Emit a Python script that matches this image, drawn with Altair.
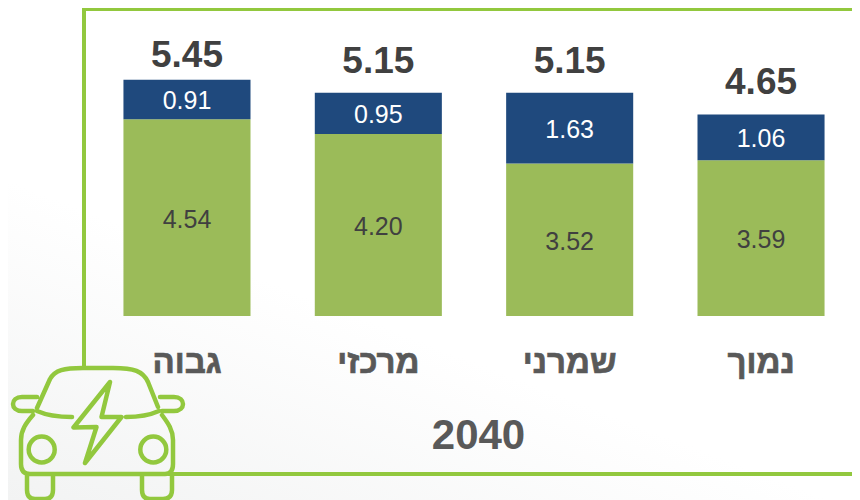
import altair as alt
import pandas as pd

categories = ["גבוה", "מרכזי", "שמרני", "נמוך"]
green_values = [4.54, 4.20, 3.52, 3.59]
blue_values = [0.91, 0.95, 1.63, 1.06]
totals = ["5.45", "5.15", "5.15", "4.65"]
axis_title = "2040"

GREEN = "#9BBB59"
BLUE = "#1F497D"
FRAME = "#92C83E"
TEXT = "#404040"
GREY = "#595959"
FONT = "Liberation Sans"

W, H = 844, 492
BASE = 308
PX_PER_UNIT = 43.35
Y_MAX = 7

# Car icon outline, in picture pixels (drawn as one custom point shape)
CAR = (
    "M37 408 L50 379 C55 370 64 368 83 368 L113 368 C134 368 143 371 148 382 L158 407 "
    "M37 411 C46 415 58 417 72 417 M126 417 C140 417 150 415 159 411 "
    "M37 397 L22 397 C10 397 10 411 22 411 L33 411 "
    "M160 397 L174 397 C186 397 186 411 174 411 L162 411 "
    "M33 415 C26 423 21 430 21 440 L21 464 C21 471 24 474 30 474 L165 474 "
    "C170 474 173 471 173 464 L173 440 C173 430 168 423 162 415 "
    "M28.7 449.5 A13 13 0 1 1 54.7 449.5 A13 13 0 1 1 28.7 449.5 "
    "M140.3 449.5 A13 13 0 1 1 166.3 449.5 A13 13 0 1 1 140.3 449.5 "
    "M27 474 L27 490 C27 496 30 499 35 499 L45 499 C50 499 53 496 53 490 L53 474 "
    "M142 474 L142 490 C142 496 145 499 150 499 L163 499 C169 499 172 496 172 490 L172 474 "
    "M110 382 L73.5 427.5 L96.5 427 L85 463 L121.5 417 L101.5 417 Z"
)

bars = pd.DataFrame({
    "category": categories * 2,
    "start": [0.0] * 4 + green_values,
    "end": green_values + [g + b for g, b in zip(green_values, blue_values)],
    "label": [f"{v:.2f}" for v in green_values + blue_values],
    "series": ["green"] * 4 + ["blue"] * 4,
})
bars["mid"] = (bars["start"] + bars["end"]) / 2
tops = pd.DataFrame({
    "category": categories,
    "top": [g + b for g, b in zip(green_values, blue_values)],
    "label": totals,
})

x_scale = alt.Scale(domain=categories, range=[83.3, 848.7], paddingInner=0.336, paddingOuter=0.168)
y_scale = alt.Scale(domain=[0, Y_MAX], range=[BASE, BASE - Y_MAX * PX_PER_UNIT], nice=False, zero=False)
x_plain = alt.X("category:N", scale=x_scale, sort=categories)
one = pd.DataFrame({"a": [0]})

background = alt.Chart(one).mark_rect(
    color=alt.LinearGradient(
        gradient="linear",
        stops=[
            alt.GradientStop(color="#F2F3F3", offset=0),
            alt.GradientStop(color="#FFFFFF", offset=1),
        ],
        x1=0, y1=1, x2=0.3, y2=0.55,
    )
).encode(x=alt.value(0), x2=alt.value(W), y=alt.value(0), y2=alt.value(H))

frame_top = alt.Chart(one).mark_rule(color=FRAME, strokeWidth=4).encode(
    x=alt.value(74), x2=alt.value(W), y=alt.value(1))
frame_left = alt.Chart(one).mark_rule(color=FRAME, strokeWidth=4).encode(
    x=alt.value(76), y=alt.value(-1), y2=alt.value(360))
frame_bottom = alt.Chart(one).mark_rule(color=FRAME, strokeWidth=4).encode(
    x=alt.value(160), x2=alt.value(W), y=alt.value(466))
car = alt.Chart(one).mark_point(
    shape=CAR, size=4, filled=False, stroke=FRAME, strokeWidth=4.5, opacity=1,
    strokeCap="round", strokeJoin="round",
).encode(x=alt.value(-8), y=alt.value(-8))

x_enc = alt.X(
    "category:N", scale=x_scale, sort=categories,
    axis=alt.Axis(
        title=axis_title, orient="bottom", offset=BASE - H, domain=False, ticks=False, grid=False,
        zindex=1, labels=False,
        titleFont=FONT, titleFontSize=42, titleFontWeight="bold", titleColor=GREY,
        titleX=470, titleY=132, titleBaseline="alphabetic", titleAlign="center",
    ),
)

bar_layer = alt.Chart(bars).mark_bar().encode(
    x=x_enc,
    y=alt.Y("start:Q", scale=y_scale, axis=None),
    y2="end:Q",
    color=alt.Color("series:N", scale=alt.Scale(domain=["green", "blue"], range=[GREEN, BLUE]), legend=None),
)
inner = alt.Chart(bars).mark_text(font=FONT, fontSize=25, baseline="middle", dy=2).encode(
    x=x_plain,
    y=alt.Y("mid:Q", scale=y_scale, axis=None),
    text="label:N",
    color=alt.Color("series:N", scale=alt.Scale(domain=["green", "blue"], range=[TEXT, "#FFFFFF"]), legend=None),
)


def top_labels(frame, gap):
    return alt.Chart(frame).mark_text(
        font=FONT, fontSize=37, fontWeight="bold", color=TEXT, baseline="alphabetic", dy=-gap
    ).encode(
        x=x_plain,
        y=alt.Y("top:Q", scale=y_scale, axis=None),
        text="label:N",
    )


category_labels = alt.Chart(tops).mark_text(
    font=FONT, fontSize=33, fontWeight="bold", color=GREY, stroke=GREY, strokeWidth=0.7,
    baseline="alphabetic",
).encode(x=x_plain, y=alt.value(365), text="category:N")

chart = alt.layer(
    background, frame_top, frame_left, frame_bottom, car, bar_layer, inner,
    top_labels(tops.iloc[:1], 13), top_labels(tops.iloc[1:], 20), category_labels,
).resolve_scale(color="independent").properties(
    width=W, height=H, padding=0,
    autosize=alt.AutoSizeParams(type="none"),
).configure_view(stroke=None)

chart.save("out.html", embed_options={"renderer": "svg", "actions": False})
